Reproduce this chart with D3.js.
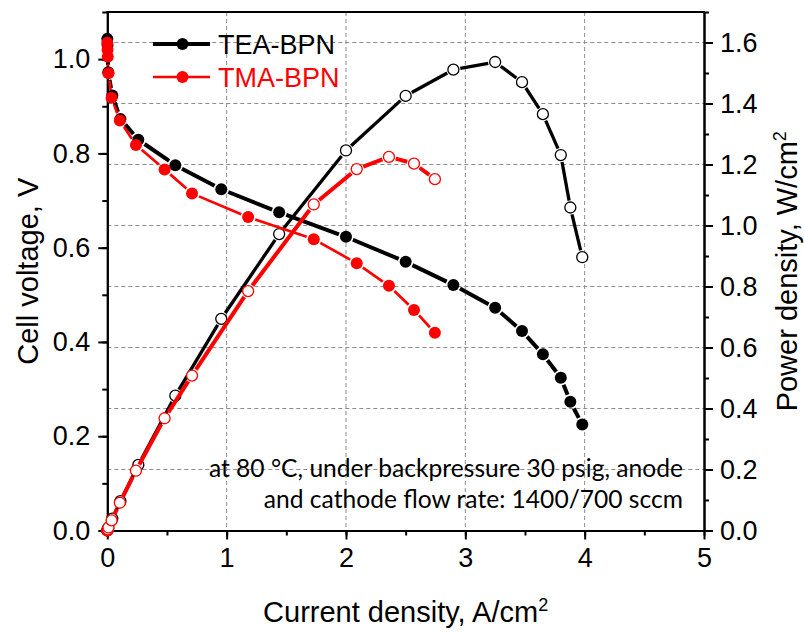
<!DOCTYPE html>
<html>
<head>
<meta charset="utf-8">
<script src="https://cdn.jsdelivr.net/npm/d3@7"></script>
<style>
  body { margin: 0; background: #fff; }
  text { font-family: "Liberation Sans", Arial, sans-serif; }
</style>
</head>
<body>
<div id="chart"></div>
<script>
// current density, A/cm2
var teaJ = [0, 0.002, 0.008, 0.042, 0.11, 0.26, 0.57, 0.955, 1.44, 2.0, 2.5, 2.9, 3.25, 3.475, 3.65, 3.8, 3.88, 3.98]
// cell voltage, V
var teaV = [1.043, 1.03, 0.972, 0.923, 0.873, 0.829, 0.775, 0.724, 0.675, 0.623, 0.57, 0.521, 0.4725, 0.423, 0.374, 0.324, 0.273, 0.225]
// power density, W/cm2
var teaP = [0, 0.002, 0.008, 0.039, 0.096, 0.215, 0.442, 0.694, 0.972, 1.246, 1.425, 1.511, 1.536, 1.47, 1.365, 1.231, 1.059, 0.896]

var tmaJ = [0, 0.002, 0.004, 0.01, 0.036, 0.105, 0.24, 0.48, 0.71, 1.18, 1.73, 2.09, 2.36, 2.57, 2.745]
var tmaV = [1.035, 1.02, 1.005, 0.97, 0.918, 0.87, 0.818, 0.766, 0.715, 0.665, 0.618, 0.567, 0.519, 0.468, 0.4195]
var tmaP = [0, 0.002, 0.004, 0.01, 0.033, 0.091, 0.196, 0.368, 0.508, 0.785, 1.069, 1.185, 1.225, 1.203, 1.152]

var xTicks = [0, 1, 2, 3, 4, 5]
var leftTicks = [0, 0.2, 0.4, 0.6, 0.8, 1.0]
var rightTicks = [0, 0.2, 0.4, 0.6, 0.8, 1.0, 1.2, 1.4, 1.6]
var legendNames = ["TEA-BPN", "TMA-BPN"]
var note = ["at 80 \u00b0C, under backpressure 30 psig, anode", "and cathode flow rate: 1400/700 sccm"]

var width = 804, height = 632
var pLeft = 107.3, pRight = 704, pTop = 12, pBottom = 530.5

var svg = d3.select("#chart").append("svg")
  .attr("width", width)
  .attr("height", height)

var x = d3.scaleLinear().domain([0, 5]).range([pLeft, pRight])
var yL = d3.scaleLinear().domain([0, 1.1]).range([pBottom, pTop])
var yR = d3.scaleLinear().domain([0, 1.7]).range([pBottom, pTop])

// grid
var grid = svg.append("g")
  .attr("stroke", "#8c8c8c")
  .attr("stroke-width", 1)
  .attr("stroke-dasharray", "4,3")
grid.selectAll(".gx").data([1, 2, 3, 4]).enter().append("line")
  .attr("x1", function (d) { return x(d) }).attr("x2", function (d) { return x(d) })
  .attr("y1", pTop).attr("y2", pBottom)
grid.selectAll(".gy").data(rightTicks.slice(1)).enter().append("line")
  .attr("x1", pLeft).attr("x2", pRight)
  .attr("y1", function (d) { return yR(d) }).attr("y2", function (d) { return yR(d) })

// axes
function styleAxis(g) {
  g.selectAll(".domain").attr("stroke-width", 2)
  g.selectAll(".tick line").attr("stroke-width", 2)
  g.selectAll("text").style("font-size", "27px").attr("fill", "#000")
}

var range = function (a, b, s) {
  return d3.range(Math.round((b - a) / s) + 1).map(function (i) { return +(a + i * s).toFixed(2) })
}

svg.append("g").attr("transform", "translate(0," + pBottom + ")")
  .call(d3.axisBottom(x).tickValues(range(0, 5, 0.5)).tickSize(5).tickFormat("").tickSizeOuter(0))
  .call(styleAxis)
svg.append("g").attr("transform", "translate(0," + pBottom + ")")
  .call(d3.axisBottom(x).tickValues(xTicks).tickSize(9).tickPadding(8).tickFormat(d3.format("d")).tickSizeOuter(0))
  .call(styleAxis)

svg.append("g").attr("transform", "translate(" + pLeft + ",0)")
  .call(d3.axisLeft(yL).tickValues(range(0, 1.1, 0.1)).tickSize(5).tickFormat("").tickSizeOuter(0))
  .call(styleAxis)
svg.append("g").attr("transform", "translate(" + pLeft + ",0)")
  .call(d3.axisLeft(yL).tickValues(leftTicks).tickSize(9).tickPadding(8).tickFormat(d3.format(".1f")).tickSizeOuter(0))
  .call(styleAxis)

svg.append("g").attr("transform", "translate(" + pRight + ",0)")
  .call(d3.axisRight(yR).tickValues(range(0, 1.7, 0.1)).tickSize(5).tickFormat("").tickSizeOuter(0))
  .call(styleAxis)
svg.append("g").attr("transform", "translate(" + pRight + ",0)")
  .call(d3.axisRight(yR).tickValues(rightTicks).tickSize(9).tickPadding(7).tickFormat(d3.format(".1f")).tickSizeOuter(0))
  .call(styleAxis)

svg.append("line")
  .attr("x1", pLeft - 1).attr("x2", pRight + 1)
  .attr("y1", pTop).attr("y2", pTop)
  .attr("stroke", "#000").attr("stroke-width", 2)

// annotation (sized so line 1 spans about 475px, like the original)
var noteText = svg.append("g").selectAll("text").data(note).enter().append("text")
  .attr("x", 683)
  .attr("y", function (d, i) { return 477 + i * 31 })
  .attr("text-anchor", "end")
  .style("font-family", "Lato, 'Open Sans', sans-serif")
  .style("font-size", "22px")
  .attr("fill", "#000")
  .text(function (d) { return d })
var w0 = noteText.node().getComputedTextLength()
if (w0 > 0) noteText.style("font-size", (22 * 475 / w0).toFixed(1) + "px")

// series: line segments stop short of the symbols
function drawSeries(xs, ys, yScale, color, lw, r, open) {
  var pts = xs.map(function (d, i) { return [x(d), yScale(ys[i])] })
  var segs = []
  var gap = r + 1.5
  for (var i = 0; i < pts.length - 1; i++) {
    var a = pts[i], b = pts[i + 1]
    var dx = b[0] - a[0], dy = b[1] - a[1]
    var len = Math.sqrt(dx * dx + dy * dy)
    if (len > 2 * gap + 1) {
      var ux = dx / len, uy = dy / len
      segs.push([a[0] + ux * gap, a[1] + uy * gap, b[0] - ux * gap, b[1] - uy * gap])
    }
  }
  var g = svg.append("g")
  g.selectAll("line").data(segs).enter().append("line")
    .attr("x1", function (d) { return d[0] })
    .attr("y1", function (d) { return d[1] })
    .attr("x2", function (d) { return d[2] })
    .attr("y2", function (d) { return d[3] })
    .attr("stroke", color)
    .attr("stroke-width", lw)
  g.selectAll("circle").data(pts).enter().append("circle")
    .attr("cx", function (d) { return d[0] })
    .attr("cy", function (d) { return d[1] })
    .attr("r", r)
    .attr("fill", open ? "#fff" : color)
    .attr("stroke", color)
    .attr("stroke-width", open ? 1.3 : 0)
}

drawSeries(teaJ, teaV, yL, "#000", 4, 6, false)
drawSeries(teaJ, teaP, yR, "#000", 3.3, 5.5, true)
drawSeries(tmaJ, tmaV, yL, "#ff0000", 2.7, 6, false)
drawSeries(tmaJ, tmaP, yR, "#ff0000", 4, 5.5, true)

// legend
var legend = svg.append("g")
var legendColors = ["#000", "#ff0000"]
legendNames.forEach(function (name, i) {
  var ly = 44 + i * 33
  legend.append("line")
    .attr("x1", 153).attr("x2", 210).attr("y1", ly).attr("y2", ly)
    .attr("stroke", legendColors[i]).attr("stroke-width", i == 0 ? 4 : 2.7)
  legend.append("circle")
    .attr("cx", 182.5).attr("cy", ly).attr("r", 6)
    .attr("fill", legendColors[i])
  legend.append("text")
    .attr("x", 218).attr("y", ly).attr("dy", "0.36em")
    .style("font-size", "27px")
    .attr("fill", legendColors[i])
    .text(name)
})

// axis titles
var xt = svg.append("text")
  .attr("x", (pLeft + pRight) / 2).attr("y", 622)
  .attr("text-anchor", "middle")
  .style("font-size", "29px")
xt.append("tspan").text("Current density, A/cm")
xt.append("tspan").attr("dy", -11).style("font-size", "18px").text("2")

svg.append("text")
  .attr("transform", "translate(38," + ((pTop + pBottom) / 2) + ") rotate(-90)")
  .attr("text-anchor", "middle")
  .style("font-size", "29px")
  .text("Cell voltage, V")

var rt = svg.append("text")
  .attr("transform", "translate(797," + ((pTop + pBottom) / 2) + ") rotate(-90)")
  .attr("text-anchor", "middle")
  .style("font-size", "29px")
rt.append("tspan").text("Power density, W/cm")
rt.append("tspan").attr("dy", -11).style("font-size", "18px").text("2")
</script>
</body>
</html>
